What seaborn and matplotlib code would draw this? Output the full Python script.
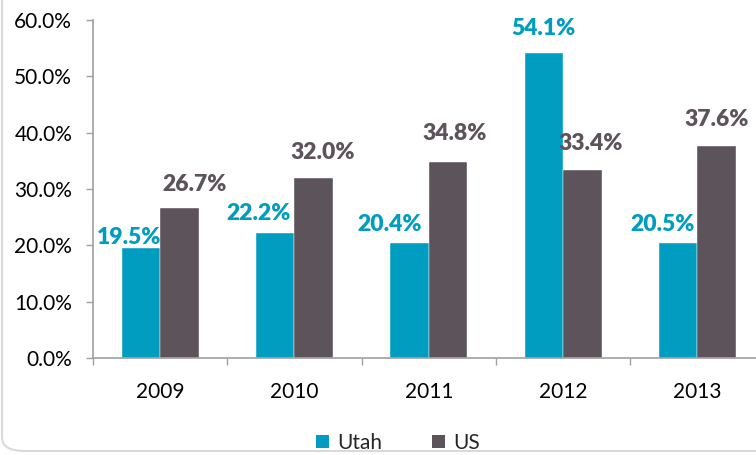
import matplotlib
matplotlib.use("Agg")
import matplotlib.pyplot as plt
import seaborn as sns
import pandas as pd
from matplotlib.patches import FancyBboxPatch, Patch
from matplotlib.ticker import FixedLocator, FuncFormatter

years = ["2009", "2010", "2011", "2012", "2013"]
utah = [19.5, 22.2, 20.4, 54.1, 20.5]
us = [26.7, 32.0, 34.8, 33.4, 37.6]
series = ["Utah", "US"]
colors = {"Utah": "#009DC0", "US": "#5D535B"}

# label placement nudges (pixels), layout only
utah_nudge_x = [-12, -17, -20, 0, -16]
utah_nudge_y = [4, 13, 12, 18, 12]
us_nudge_x = [15, 9, 7, 8, 0]
us_nudge_y = [17, 19, 22, 20, 20]

df = pd.DataFrame({
    "year": years * 2,
    "value": utah + us,
    "series": ["Utah"] * len(years) + ["US"] * len(years),
})

sns.set_style("white")
plt.rcParams["font.family"] = ["Lato", "DejaVu Sans"]

fig = plt.figure(figsize=(7.56, 4.55), dpi=100)
ax = fig.add_axes([93 / 756, 1 - 358 / 455, 1 - 93 / 756, (358 - 20) / 455])

sns.barplot(data=df, x="year", y="value", hue="series", palette=colors,
            width=0.573, gap=0, ax=ax, legend=False, saturation=1,
            edgecolor="white", linewidth=0.3)

ax.set_xlabel("")
ax.set_ylabel("")

ax.yaxis.set_major_locator(FixedLocator([0, 10, 20, 30, 40, 50, 60]))
ax.yaxis.set_major_formatter(FuncFormatter(lambda v, p: f"{v:.1f}%"))
ax.tick_params(axis="y", which="major", direction="out", length=5, width=1,
               color="#A0A0A0", labelsize=15, labelcolor="#000000", pad=10, left=True)
ax.set_xticks(range(len(years)))
ax.set_xticklabels(years)
ax.tick_params(axis="x", which="major", length=0, labelsize=15, pad=17, labelcolor="#000000")
ax.set_xticks([i - 0.5 for i in range(len(years) + 1)], minor=True)
ax.tick_params(axis="x", which="minor", direction="out", length=5, width=1,
               color="#A0A0A0", bottom=True)

ax.set_xlim(-0.5, -0.5 + (756 - 93) / 134.3)
ax.set_ylim(0, 60)

for s in ["top", "right"]:
    ax.spines[s].set_visible(False)
for s in ["left", "bottom"]:
    ax.spines[s].set_color("#A0A0A0")
    ax.spines[s].set_linewidth(1.2)

# data labels
px = 72 / 100
for cont, name, vals, nx, ny in zip(ax.containers, series, (utah, us),
                                    (utah_nudge_x, us_nudge_x), (utah_nudge_y, us_nudge_y)):
    for bar, v, dx, dy in zip(cont, vals, nx, ny):
        ax.annotate(f"{v:.1f}%", (bar.get_x() + bar.get_width() / 2, bar.get_height()),
                    xytext=(dx * px, dy * px), textcoords="offset points", ha="center",
                    va="baseline", fontsize=16.5, fontweight="heavy", color=colors[name])

handles = [Patch(facecolor=colors[s], edgecolor="none") for s in series]
fig.legend(handles, series, loc="center", bbox_to_anchor=(398 / 756, 1 - 443 / 455),
           ncol=2, frameon=False, fontsize=15, handlelength=0.6, handleheight=0.6,
           handletextpad=0.4, columnspacing=2.4)

border = FancyBboxPatch((2 / 756, 4 / 455), 1.2, 1.2, boxstyle="round,pad=0,rounding_size=0.03",
                        transform=fig.transFigure, facecolor="none", edgecolor="#D9D9D9",
                        linewidth=1.5, zorder=-1)
fig.patches.append(border)

fig.savefig("out.png", dpi=100)
